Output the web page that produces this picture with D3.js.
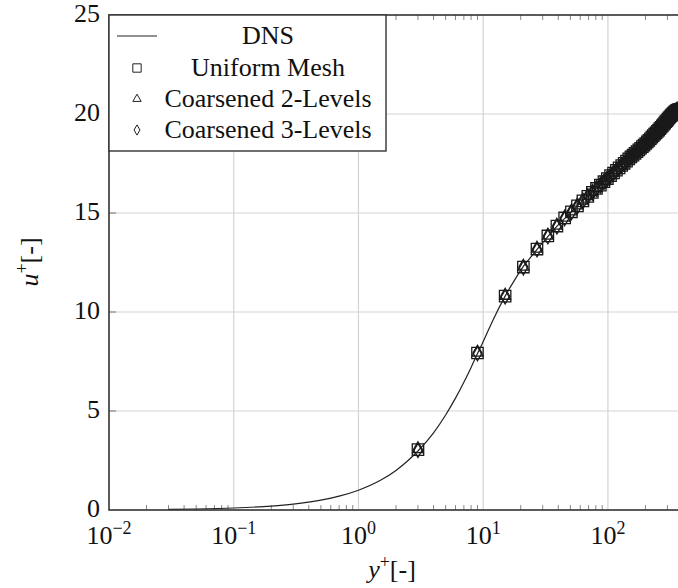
<!DOCTYPE html>
<html><head><meta charset="utf-8">
<script src="https://cdn.jsdelivr.net/npm/d3@7"></script>
<style>body{margin:0;background:#fff}svg{display:block}text{font-family:"Liberation Serif","DejaVu Serif",serif;fill:#111}</style>
</head><body><svg id="c" width="678" height="588"></svg>
<script>
// DNS reference profile (y+, u+)
const dnsY = [0.03,0.05,0.1,0.2,0.3,0.5,0.7,1,1.5,2,2.5,3,4,5,6,7,8,9,10,12,15,18,21,25,30,35,40,50,60,70,80,100,125,150,200,250,300,350,393];
const dnsU = [0.03,0.05,0.1,0.2,0.3,0.5,0.7,1.0,1.5,2.0,2.5,2.98,3.9,4.8,5.65,6.45,7.2,7.9,8.5,9.6,10.8,11.65,12.3,12.9,13.5,14.0,14.4,15.0,15.5,15.88,16.2,16.75,17.33,17.78,18.5,19.12,19.7,20.14,20.25];
// LES sample points (cell centres), same for all three meshes
const lesY = [3,9,15,21,27,33,39,45,51,57,63,69,75,81,87,93,99,105,111,117,123,129,135,141,147,153,159,165,171,177,183,189,195,201,207,213,219,225,231,237,243,249,255,261,267,273,279,285,291,297,303,309,315,321,327,333,339,345,351,357,363,369,375,381,387,393];
const uniformU = [3.05,7.93,10.8,12.27,13.18,13.84,14.34,14.75,15.06,15.36,15.61,15.84,16.04,16.24,16.41,16.58,16.74,16.89,17.02,17.16,17.28,17.40,17.51,17.62,17.73,17.83,17.92,18.01,18.10,18.19,18.27,18.35,18.43,18.51,18.59,18.67,18.75,18.83,18.91,18.98,19.05,19.12,19.19,19.26,19.33,19.40,19.47,19.54,19.61,19.67,19.74,19.80,19.86,19.92,19.97,20.02,20.07,20.11,20.15,20.18,20.20,20.22,20.23,20.24,20.24,20.25];
const coarse2U = [3.05,7.93,10.8,12.27,13.18,13.84,14.34,14.75,15.06,15.36,15.61,15.84,16.04,16.24,16.41,16.58,16.74,16.89,17.02,17.16,17.28,17.40,17.51,17.62,17.73,17.83,17.92,18.01,18.10,18.19,18.27,18.35,18.43,18.51,18.59,18.67,18.75,18.83,18.91,18.98,19.05,19.12,19.19,19.26,19.33,19.40,19.47,19.54,19.61,19.67,19.74,19.80,19.86,19.92,19.97,20.02,20.07,20.11,20.15,20.18,20.20,20.22,20.23,20.24,20.24,20.25];
const coarse3U = [3.05,7.93,10.8,12.27,13.18,13.84,14.34,14.75,15.06,15.36,15.61,15.84,16.04,16.24,16.41,16.58,16.74,16.89,17.02,17.16,17.28,17.40,17.51,17.62,17.73,17.83,17.92,18.01,18.10,18.19,18.27,18.35,18.43,18.51,18.59,18.67,18.75,18.83,18.91,18.98,19.05,19.12,19.19,19.26,19.33,19.40,19.47,19.54,19.61,19.67,19.74,19.80,19.86,19.92,19.97,20.02,20.07,20.11,20.15,20.18,20.20,20.22,20.23,20.24,20.24,20.25];
const xTicks = [0.01,0.1,1,10,100];
const xTickExp = ["−2","−1","0","1","2"];
const yTicks = [0,5,10,15,20,25];
const legendLabels = ["DNS","Uniform Mesh","Coarsened 2-Levels","Coarsened 3-Levels"];

const svg = d3.select("#c");
const L=109, T=15, R=683, B=510;
const x = d3.scaleLog().domain([0.01,400]).range([L,R]);
const y = d3.scaleLinear().domain([0,25]).range([B,T]);

// grid
const g = svg.append("g");
g.selectAll("line.gx").data(xTicks.slice(1)).join("line")
  .attr("x1",d=>x(d)).attr("x2",d=>x(d)).attr("y1",T).attr("y2",B)
  .attr("stroke","#d4d4d4").attr("stroke-width",1.2);
g.selectAll("line.gy").data(yTicks.slice(1,-1)).join("line")
  .attr("x1",L).attr("x2",R).attr("y1",d=>y(d)).attr("y2",d=>y(d))
  .attr("stroke","#d4d4d4").attr("stroke-width",1.2);

// minor ticks
const minors=[];
for(let e=-2;e<=2;e++) for(let m=2;m<=9;m++){const v=m*Math.pow(10,e); if(v<400) minors.push(v);}
g.selectAll("line.mb").data(minors).join("line")
  .attr("x1",d=>x(d)).attr("x2",d=>x(d)).attr("y1",B).attr("y2",B-5).attr("stroke","#888").attr("stroke-width",1);
g.selectAll("line.mt").data(minors).join("line")
  .attr("x1",d=>x(d)).attr("x2",d=>x(d)).attr("y1",T).attr("y2",T+5).attr("stroke","#888").attr("stroke-width",1);
g.selectAll("line.my").data(yTicks.slice(1,-1)).join("line")
  .attr("x1",L).attr("x2",L+7).attr("y1",d=>y(d)).attr("y2",d=>y(d)).attr("stroke","#888").attr("stroke-width",1.2);

// data
svg.append("clipPath").attr("id","cp").append("rect").attr("x",L).attr("y",T).attr("width",R-L).attr("height",B-T);
const dns = dnsY.map((v,i)=>[v,dnsU[i]]);
svg.append("path").datum(dns).attr("clip-path","url(#cp)")
  .attr("d",d3.line().x(d=>x(d[0])).y(d=>y(d[1])).curve(d3.curveMonotoneX))
  .attr("fill","none").attr("stroke","#222").attr("stroke-width",1.2);

const mk = svg.append("g").attr("clip-path","url(#cp)");
function drawSeries(vals, type, size){
  const sym = d3.symbol().type(type).size(size);
  mk.selectAll(null).data(lesY.map((v,i)=>[v,vals[i]])).join("path")
    .attr("transform",d=>`translate(${x(d[0])},${y(d[1])})`)
    .attr("d",sym).attr("fill","none").attr("stroke","#1a1a1a").attr("stroke-width",1.3);
}
drawSeries(uniformU, d3.symbolSquare, 130);
drawSeries(coarse2U, d3.symbolTriangle, 50);
drawSeries(coarse3U, d3.symbolDiamond, 70);

// frame
svg.append("rect").attr("x",L).attr("y",T).attr("width",R-L).attr("height",B-T)
  .attr("fill","none").attr("stroke","#333").attr("stroke-width",1.6);

// tick labels
svg.selectAll("text.yl").data(yTicks).join("text")
  .attr("x",100).attr("y",d=>y(d)+7).attr("text-anchor","end").attr("font-size",26).text(d=>d);
const xl = svg.selectAll("text.xl").data(xTicks).join("text")
  .attr("x",d=>x(d)).attr("y",544).attr("text-anchor","middle").attr("font-size",26);
xl.append("tspan").text("10");
xl.append("tspan").attr("dy",-10).attr("font-size",18).text((d,i)=>xTickExp[i]);

// axis titles
const xt = svg.append("text").attr("x",392).attr("y",578).attr("text-anchor","middle").attr("font-size",26);
xt.append("tspan").attr("font-style","italic").text("y");
xt.append("tspan").attr("dy",-10).attr("font-size",18).text("+");
xt.append("tspan").attr("dy",10).text("[-]");
const yt = svg.append("text").attr("transform","translate(38,262) rotate(-90)").attr("text-anchor","middle").attr("font-size",26);
yt.append("tspan").attr("font-style","italic").text("u");
yt.append("tspan").attr("dy",-10).attr("font-size",18).text("+");
yt.append("tspan").attr("dy",10).text("[-]");

// legend
const lg = svg.append("g");
lg.append("rect").attr("x",L).attr("y",T).attr("width",277).attr("height",136)
  .attr("fill","#fff").attr("stroke","#333").attr("stroke-width",1.4);
const rows=[36,68,99,130];
lg.append("line").attr("x1",117).attr("x2",157).attr("y1",rows[0]).attr("y2",rows[0]).attr("stroke","#222").attr("stroke-width",1.2);
[[d3.symbolSquare,70],[d3.symbolTriangle,30],[d3.symbolDiamond,30]].forEach((s,i)=>{
  lg.append("path").attr("transform",`translate(137,${rows[i+1]})`).attr("d",d3.symbol().type(s[0]).size(s[1])())
    .attr("fill","none").attr("stroke","#222").attr("stroke-width",1);
});
lg.selectAll("text").data(legendLabels).join("text")
  .attr("x",268).attr("y",(d,i)=>rows[i]+8).attr("text-anchor","middle").attr("font-size",26).text(d=>d);
</script></body></html>
